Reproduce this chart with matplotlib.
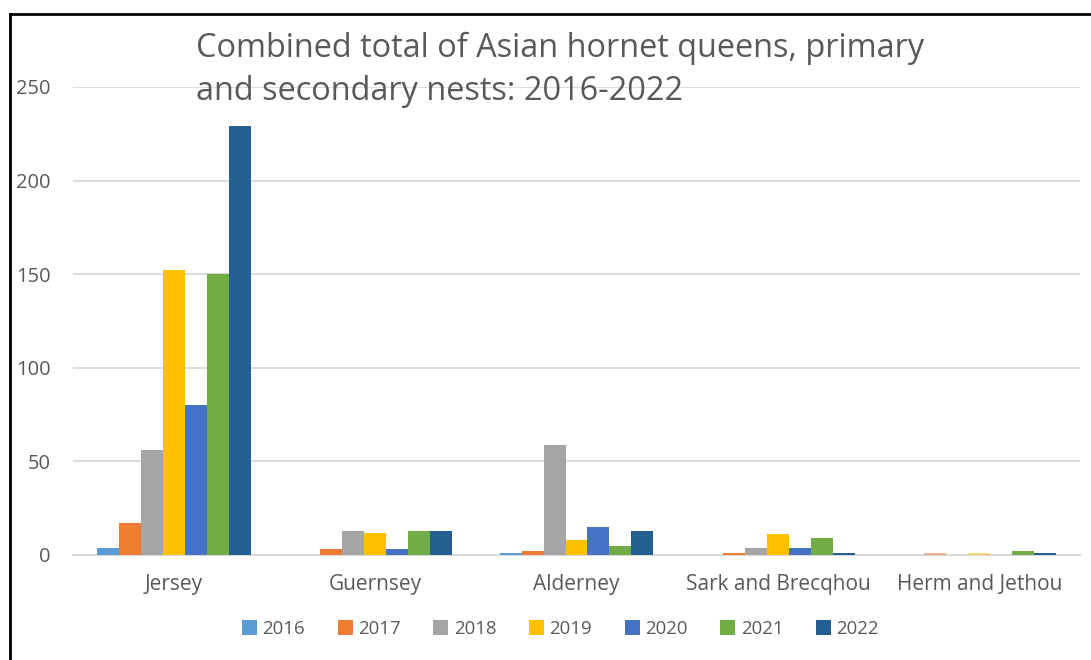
import numpy as np
import matplotlib.pyplot as plt
from matplotlib.lines import Line2D

plt.rcParams['font.family'] = ['Open Sans', 'DejaVu Sans']

islands = ['Jersey', 'Guernsey', 'Alderney', 'Sark and Brecqhou', 'Herm and Jethou']
years = ['2016', '2017', '2018', '2019', '2020', '2021', '2022']
v2016 = [4, 0, 1, 0, 0]
v2017 = [17, 3, 2, 1, 1]
v2018 = [56, 13, 59, 4, 0]
v2019 = [152, 12, 8, 11, 1]
v2020 = [80, 3, 15, 4, 0]
v2021 = [150, 13, 5, 9, 2]
v2022 = [229, 13, 13, 1, 1]
series = [v2016, v2017, v2018, v2019, v2020, v2021, v2022]
colors = ['#5B9BD5', '#ED7D31', '#A5A5A5', '#FFC000', '#4472C4', '#70AD47', '#255E91']
# Herm small bars look faded in the original
herm_alpha = [1, 0.5, 1, 0.5, 1, 1, 1]

grey = '#595959'
fig = plt.figure(figsize=(10.91, 6.6), dpi=100)
ax = fig.add_axes([73/1091, 1-555/660, 1007/1091, 468/660])

x = np.arange(len(islands))
w = 0.109
for i, (vals, c) in enumerate(zip(series, colors)):
    pos = x + (i - 3) * w
    ax.bar(pos[:4], vals[:4], width=w, color=c, label=years[i], zorder=3)
    ax.bar(pos[4], vals[4], width=w, color=c, alpha=herm_alpha[i], zorder=3)

ax.set_xlim(-0.5, len(islands) - 0.5)
ax.set_ylim(0, 250)
ax.set_yticks([0, 50, 100, 150, 200, 250])
ax.grid(axis='y', color='#d9d9d9', linewidth=1.3, zorder=0)
for s in ['top', 'right', 'left']:
    ax.spines[s].set_visible(False)
ax.spines['bottom'].set_color('#d9d9d9')
ax.spines['bottom'].set_linewidth(1.5)
ax.set_xticks(x)
ax.set_xticklabels(islands, fontsize=15)
ax.tick_params(axis='both', length=0, colors=grey)
ax.tick_params(axis='y', pad=16, labelsize=14.5)
ax.tick_params(axis='x', pad=14)

fig.text(196/1091, 1-57/660, 'Combined total of Asian hornet queens, primary',
         ha='left', va='baseline', fontsize=23.4, color=grey)
fig.text(196/1091, 1-100/660, 'and secondary nests: 2016-2022',
         ha='left', va='baseline', fontsize=23.4, color=grey)

ax.legend(loc='center', bbox_to_anchor=(0.484, -0.158), ncol=7, frameon=False,
          fontsize=13.4, labelcolor=grey, handlelength=0.8, handleheight=0.8,
          handletextpad=0.3, columnspacing=1.75)

fig.add_artist(Line2D([10/1091, 10/1091], [0, 1-14/660], color='black', linewidth=2, transform=fig.transFigure))
fig.add_artist(Line2D([10/1091, 1], [1-14/660, 1-14/660], color='black', linewidth=2, transform=fig.transFigure))

plt.savefig('out.png', dpi=100)
